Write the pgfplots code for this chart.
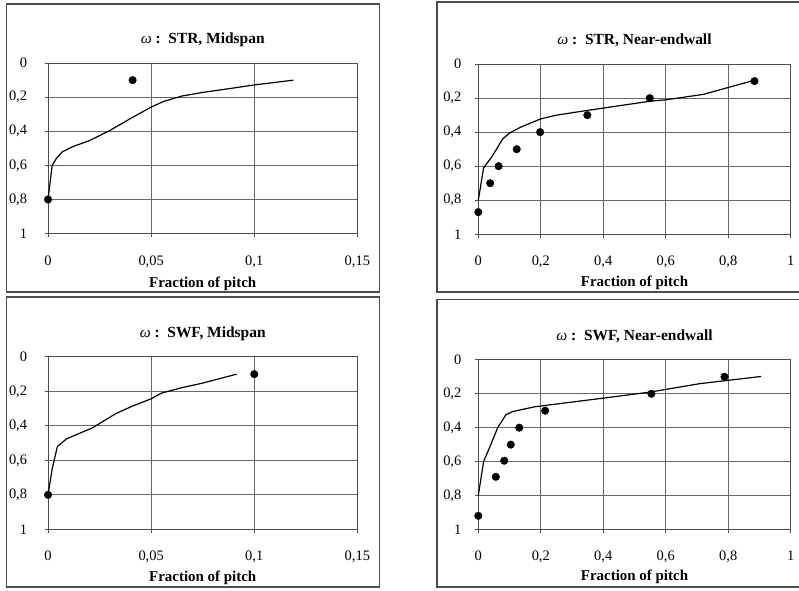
\documentclass[border=0pt]{standalone}
\usepackage{pgfplots}
\pgfplotsset{compat=1.18}
\usepackage{fontspec}
\setmainfont{Liberation Serif}
\begin{document}
\pgfplotsset{
  panel/.style={
    scale only axis, anchor=south west, clip=false,
    y dir=reverse, ymin=0, ymax=1,
    ytick={0,0.2,0.4,0.6,0.8,1},
    yticklabels={0,{0,2},{0,4},{0,6},{0,8},1},
    grid=major,
    major grid style={black!60, line width=0.8pt},
    axis line style={black!70, line width=1.1pt},
    tick style={black!70, line width=0.8pt},
    tick align=outside, major tick length=3.5pt,
    tick pos=left,
    tick label style={font=\fontsize{14.5}{16}\selectfont},
    xticklabel style={yshift=-15pt},
    xlabel={Fraction of pitch},
    xlabel style={font=\fontsize{15}{17}\selectfont\bfseries, at={(axis description cs:0.5,0)}, anchor=center},
    title style={font=\fontsize{15.5}{17}\selectfont\bfseries, at={(axis description cs:0.5,1)}, anchor=center, yshift=17.5pt},
  },
  midx/.style={xmin=0, xmax=0.15, xtick={0,0.05,0.1,0.15}, xticklabels={0,{0,05},{0,1},{0,15}}, yticklabel style={xshift=-14pt}},
  endx/.style={xmin=0, xmax=1, xtick={0,0.2,0.4,0.6,0.8,1}, xticklabels={0,{0,2},{0,4},{0,6},{0,8},1}, yticklabel style={xshift=-10pt}},
  cfd/.style={black, line width=1.2pt, no marks},
  exp/.style={only marks, mark=*, mark size=3.8pt, black},
}
\begin{tikzpicture}
\useasboundingbox (0pt,0pt) rectangle (799pt,592pt);
% panel frames
\draw[black!70, line width=1.4pt] (4.3pt,299pt) rectangle (378pt,588pt);
\draw[black!70, line width=1.4pt] (436pt,299pt) rectangle (806pt,590pt);
\draw[black!70, line width=1.4pt] (4.3pt,3pt) rectangle (378pt,294pt);
\draw[black!70, line width=1.4pt] (436pt,3pt) rectangle (806pt,291.3pt);

% Panel 1: STR, Midspan
\begin{axis}[panel, midx, at={(45.7pt,357.7pt)}, width=310.3pt, height=171pt,
  title={{\mdseries\itshape ω} :\, STR, Midspan}, xlabel style={yshift=-50pt}]
\addplot[cfd] coordinates {(0,0.8) (0.001,0.7) (0.002,0.6) (0.004,0.56) (0.007,0.52) (0.012,0.49) (0.02,0.455) (0.03,0.395) (0.04,0.325) (0.05,0.258) (0.056,0.225) (0.065,0.193) (0.075,0.172) (0.09,0.146) (0.1,0.128) (0.119,0.1)};
\addplot[exp] coordinates {(0.041,0.1) (0,0.8)};
\end{axis}

% Panel 2: STR, Near-endwall
\begin{axis}[panel, endx, at={(477.3pt,357pt)}, width=313.4pt, height=170.7pt,
  title={{\mdseries\itshape ω} :\, STR, Near-endwall}, xlabel style={yshift=-49pt}]
\addplot[cfd] coordinates {(0,0.8) (0.017,0.61) (0.045,0.54) (0.078,0.44) (0.1,0.405) (0.136,0.37) (0.2,0.322) (0.25,0.3) (0.35,0.272) (0.55,0.218) (0.6,0.21) (0.72,0.178) (0.884,0.095)};
\addplot[exp] coordinates {(0,0.87) (0.038,0.7) (0.065,0.6) (0.123,0.5) (0.198,0.4) (0.349,0.3) (0.549,0.2) (0.884,0.1)};
\end{axis}

% Panel 3: SWF, Midspan
\begin{axis}[panel, midx, at={(45.7pt,61pt)}, width=310.3pt, height=173pt,
  title={{\mdseries\itshape ω} :\, SWF, Midspan}, xlabel style={yshift=-49pt}]
\addplot[cfd] coordinates {(0,0.8) (0.002,0.65) (0.0045,0.52) (0.009,0.475) (0.0214,0.412) (0.033,0.328) (0.041,0.285) (0.05,0.243) (0.055,0.21) (0.065,0.178) (0.075,0.152) (0.0915,0.1)};
\addplot[exp] coordinates {(0,0.8) (0.1,0.1)};
\end{axis}

% Panel 4: SWF, Near-endwall
\begin{axis}[panel, endx, at={(477.3pt,61pt)}, width=313.4pt, height=170pt,
  title={{\mdseries\itshape ω} :\, SWF, Near-endwall}, xlabel style={yshift=-48pt}]
\addplot[cfd] coordinates {(0,0.8) (0.017,0.6) (0.04,0.5) (0.062,0.4) (0.088,0.325) (0.11,0.305) (0.18,0.277) (0.39,0.228) (0.55,0.19) (0.71,0.14) (0.905,0.098)};
\addplot[exp] coordinates {(0,0.92) (0.056,0.69) (0.083,0.595) (0.104,0.5) (0.131,0.4) (0.214,0.3) (0.554,0.2) (0.788,0.1)};
\end{axis}
\end{tikzpicture}
\end{document}
